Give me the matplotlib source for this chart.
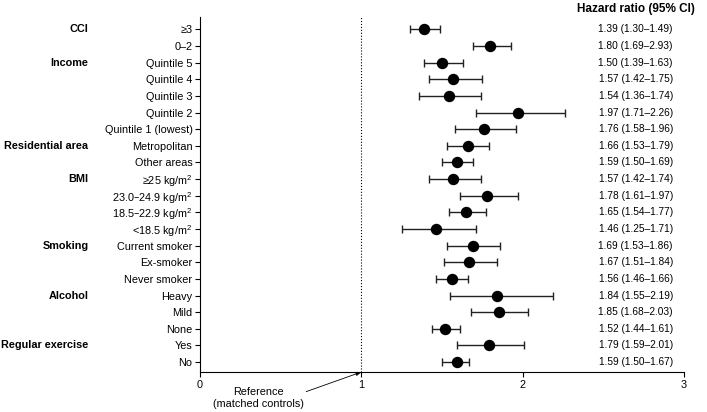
import matplotlib
matplotlib.use("Agg")
import matplotlib.pyplot as plt
import numpy as np

plt.rcParams['font.family'] = ['Liberation Sans', 'DejaVu Sans']
plt.rcParams['mathtext.default'] = 'regular'

# rows, top to bottom
labels = ["≥3", "0–2", "Quintile 5", "Quintile 4", "Quintile 3", "Quintile 2",
          "Quintile 1 (lowest)", "Metropolitan", "Other areas",
          "≥25 kg/m$^2$", "23.0–24.9 kg/m$^2$", "18.5–22.9 kg/m$^2$", "<18.5 kg/m$^2$",
          "Current smoker", "Ex-smoker", "Never smoker", "Heavy", "Mild", "None",
          "Yes", "No"]
hr = [1.39, 1.80, 1.50, 1.57, 1.54, 1.97, 1.76, 1.66, 1.59, 1.57, 1.78,
      1.65, 1.46, 1.69, 1.67, 1.56, 1.84, 1.85, 1.52, 1.79, 1.59]
lo = [1.30, 1.69, 1.39, 1.42, 1.36, 1.71, 1.58, 1.53, 1.50, 1.42, 1.61,
      1.54, 1.25, 1.53, 1.51, 1.46, 1.55, 1.68, 1.44, 1.59, 1.50]
hi = [1.49, 1.93, 1.63, 1.75, 1.74, 2.26, 1.96, 1.79, 1.69, 1.74, 1.97,
      1.77, 1.71, 1.86, 1.84, 1.66, 2.19, 2.03, 1.61, 2.01, 1.67]
ci_text = ["1.39 (1.30–1.49)", "1.80 (1.69–2.93)", "1.50 (1.39–1.63)", "1.57 (1.42–1.75)",
           "1.54 (1.36–1.74)", "1.97 (1.71–2.26)", "1.76 (1.58–1.96)", "1.66 (1.53–1.79)",
           "1.59 (1.50–1.69)", "1.57 (1.42–1.74)", "1.78 (1.61–1.97)", "1.65 (1.54–1.77)",
           "1.46 (1.25–1.71)", "1.69 (1.53–1.86)", "1.67 (1.51–1.84)", "1.56 (1.46–1.66)",
           "1.84 (1.55–2.19)", "1.85 (1.68–2.03)", "1.52 (1.44–1.61)", "1.79 (1.59–2.01)",
           "1.59 (1.50–1.67)"]
groups = ["CCI", "Income", "Residential area", "BMI", "Smoking", "Alcohol", "Regular exercise"]
group_rows = [0, 2, 7, 9, 13, 16, 19]

hr = np.array(hr)
lo = np.array(lo)
hi = np.array(hi)
y = np.arange(len(labels))

fig = plt.figure(figsize=(7.07, 4.12), dpi=100)
ax = fig.add_axes([0.283, 0.097, 0.6845, 0.862])

ax.axvline(1, color='black', lw=0.8, ls=':', zorder=1)
ax.errorbar(hr, y, xerr=[hr - lo, hi - hr], fmt='o', color='black', ms=7.2,
            ecolor='#222222', elinewidth=1.0, capsize=2.8, capthick=1.0, zorder=3)

ax.set_xlim(0, 3)
ax.set_ylim(20.6, -0.75)
ax.set_xticks([0, 1, 2, 3])
ax.set_yticks(y)
ax.set_yticklabels(labels)
ax.tick_params(axis='both', labelsize=7.8, width=0.8, length=3.5, pad=2)
ax.spines['top'].set_visible(False)
ax.spines['right'].set_visible(False)
ax.spines['left'].set_linewidth(0.8)
ax.spines['bottom'].set_linewidth(0.8)

for yi, t in zip(y, ci_text):
    ax.text(2.70, yi, t, ha='center', va='center', fontsize=7.3)
ax.text(2.70, -1.25, "Hazard ratio (95% CI)", ha='center', va='center',
        fontsize=8.5, fontweight='bold')

for g, r in zip(groups, group_rows):
    ax.text(0.125, ax.transData.transform((0, r))[1] / fig.dpi / 4.12, g,
            transform=fig.transFigure, ha='right', va='center',
            fontsize=7.8, fontweight='bold')

ax.annotate("Reference\n(matched controls)", xy=(1, 0), xycoords=('data', 'axes fraction'),
            xytext=(258 / 707, 1 - 398 / 412), textcoords='figure fraction',
            ha='center', va='center', fontsize=7.8,
            arrowprops=dict(arrowstyle='-|>,head_length=0.4,head_width=0.15',
                            color='black', lw=0.6, shrinkA=0, shrinkB=0,
                            relpos=(1.0, 0.75)))

fig.savefig("out.png", dpi=100)
